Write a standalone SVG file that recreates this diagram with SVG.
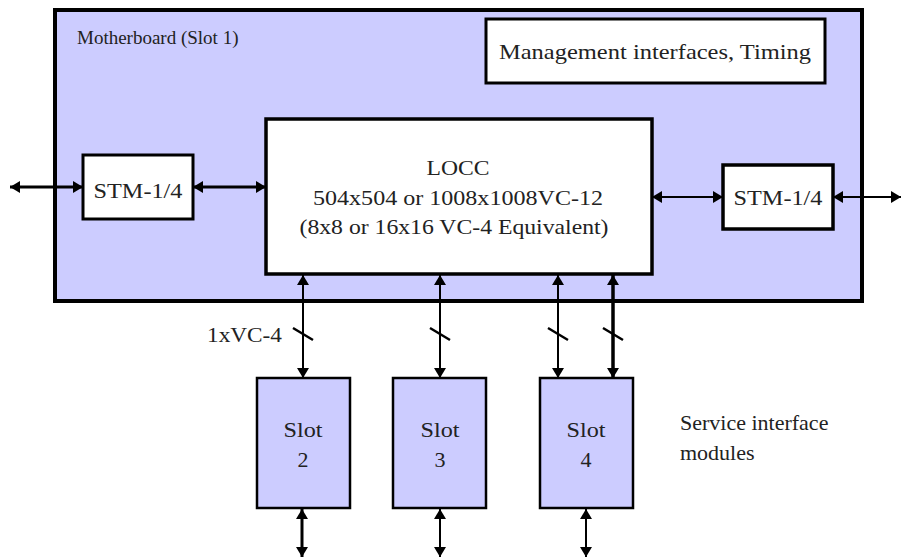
<svg xmlns="http://www.w3.org/2000/svg" width="901" height="560" viewBox="0 0 901 560">
<style>
.c{text-anchor:middle;}
.box{fill:#fff;stroke:#000;}
.slot{fill:#ccccff;stroke:#000;stroke-width:2.5;}
.ln{stroke:#000;fill:none;}
</style>
<defs>
<marker id="ah" viewBox="0 0 10 12" refX="10" refY="6" markerWidth="10" markerHeight="12" markerUnits="userSpaceOnUse" orient="auto-start-reverse">
<path d="M0,0 L10,6 L0,12 Z" fill="#000"/>
</marker>
</defs>
<rect width="901" height="560" fill="#fff"/>
<g font-family="'Liberation Serif', 'Times New Roman', serif" fill="#222" font-size="22">
<g id="motherboard">
<rect x="55" y="10" width="807" height="291" fill="#ccccff" stroke="#000" stroke-width="4"/>
<text x="77" y="44" font-size="19">Motherboard (Slot 1)</text>
</g>
<g id="management">
<rect class="box" x="486" y="19" width="339" height="64" stroke-width="3"/>
<text class="c" x="655" y="59" textLength="312" lengthAdjust="spacingAndGlyphs">Management interfaces, Timing</text>
</g>
<g id="locc">
<rect class="box" x="266" y="119" width="386" height="155" stroke-width="3.5"/>
<text class="c" x="458" y="175" textLength="63" lengthAdjust="spacingAndGlyphs">LOCC</text>
<text class="c" x="458" y="205" textLength="290" lengthAdjust="spacingAndGlyphs">504x504 or 1008x1008VC-12</text>
<text class="c" x="454" y="234" textLength="309" lengthAdjust="spacingAndGlyphs">(8x8 or 16x16 VC-4 Equivalent)</text>
</g>
<g id="stm-left">
<rect class="box" x="83" y="155" width="110" height="64" stroke-width="3"/>
<text class="c" x="138" y="198" textLength="89" lengthAdjust="spacingAndGlyphs">STM-1/4</text>
</g>
<g id="stm-right">
<rect class="box" x="723" y="165" width="110" height="64" stroke-width="3.5"/>
<text class="c" x="778" y="205" textLength="89" lengthAdjust="spacingAndGlyphs">STM-1/4</text>
</g>
<g id="slot2">
<rect class="slot" x="257" y="378" width="93" height="130"/>
<text class="c" x="303" y="437" textLength="39" lengthAdjust="spacingAndGlyphs">Slot</text>
<text class="c" x="303" y="467">2</text>
</g>
<g id="slot3">
<rect class="slot" x="393" y="378" width="93" height="130"/>
<text class="c" x="440" y="437" textLength="39" lengthAdjust="spacingAndGlyphs">Slot</text>
<text class="c" x="440" y="467">3</text>
</g>
<g id="slot4">
<rect class="slot" x="540" y="378" width="93" height="130"/>
<text class="c" x="586" y="437" textLength="39" lengthAdjust="spacingAndGlyphs">Slot</text>
<text class="c" x="586" y="467">4</text>
</g>
<g id="connectors">
<line class="ln" x1="10" y1="187" x2="83" y2="187" stroke-width="3" marker-start="url(#ah)" marker-end="url(#ah)"/>
<line class="ln" x1="193" y1="187" x2="266" y2="187" stroke-width="3" marker-start="url(#ah)" marker-end="url(#ah)"/>
<line class="ln" x1="652" y1="197" x2="723" y2="197" stroke-width="2" marker-start="url(#ah)" marker-end="url(#ah)"/>
<line class="ln" x1="833" y1="197" x2="901" y2="197" stroke-width="2" marker-start="url(#ah)" marker-end="url(#ah)"/>
<line class="ln" x1="303" y1="275" x2="303" y2="378" stroke-width="2" marker-start="url(#ah)" marker-end="url(#ah)"/>
<line class="ln" x1="440" y1="275" x2="440" y2="378" stroke-width="2" marker-start="url(#ah)" marker-end="url(#ah)"/>
<line class="ln" x1="558" y1="275" x2="558" y2="378" stroke-width="2" marker-start="url(#ah)" marker-end="url(#ah)"/>
<line class="ln" x1="613" y1="275" x2="613" y2="378" stroke-width="3.5" marker-start="url(#ah)" marker-end="url(#ah)"/>
<line class="ln" x1="302" y1="509" x2="302" y2="557" stroke-width="3" marker-start="url(#ah)" marker-end="url(#ah)"/>
<line class="ln" x1="440" y1="509" x2="440" y2="557" stroke-width="2" marker-start="url(#ah)" marker-end="url(#ah)"/>
<line class="ln" x1="586" y1="509" x2="586" y2="557" stroke-width="2" marker-start="url(#ah)" marker-end="url(#ah)"/>
<path class="ln" stroke-width="2.5" d="M293,328 L313,340 M430,328 L450,340 M548,328 L568,340 M603,328 L623,340"/>
</g>
<text x="207" y="342" textLength="75" lengthAdjust="spacingAndGlyphs">1xVC-4</text>
<text x="680" y="430">Service interface</text>
<text x="680" y="460">modules</text>
</g>
</svg>
